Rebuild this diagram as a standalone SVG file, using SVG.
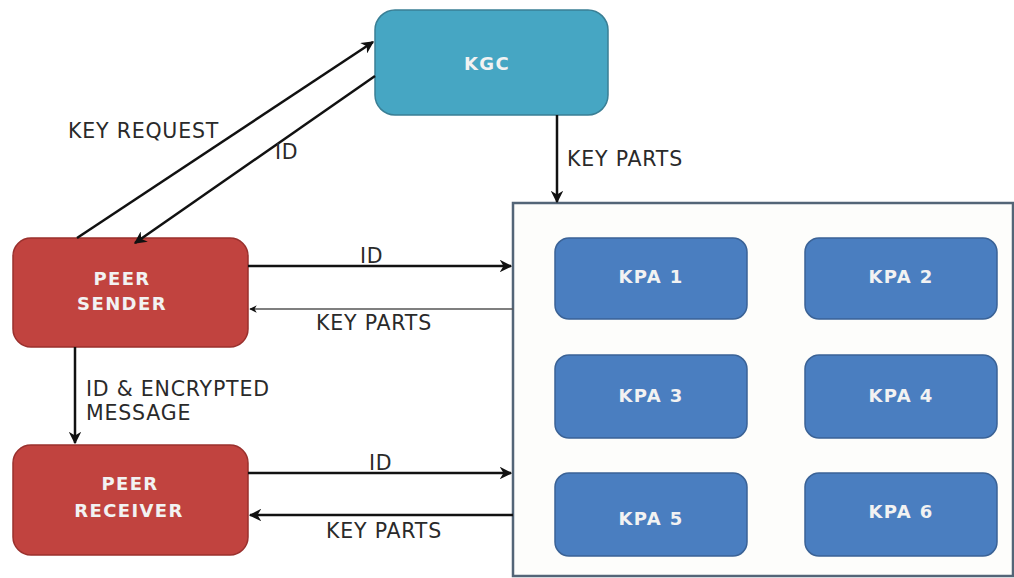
<svg xmlns="http://www.w3.org/2000/svg" width="1014" height="578" viewBox="0 0 1014 578">
  <style>
    .lbl { font-family: "DejaVu Sans", "Liberation Sans", sans-serif; font-size: 20.5px; letter-spacing: 0.8px; fill: #2a2a2a; }
    .ntx { font-family: "DejaVu Sans", "Liberation Sans", sans-serif; font-size: 18px; font-weight: bold; letter-spacing: 1.4px; fill: #f2f2f2; text-anchor: middle; }
    .kgc { fill: #46a6c3; stroke: #3a7f95; stroke-width: 1.5; }
    .peer { fill: #c1433f; stroke: #9a302d; stroke-width: 1.5; }
    .kpa { fill: #4a7ec0; stroke: #3a6296; stroke-width: 1.5; }
    .pool { fill: #fdfdfb; stroke: #536577; stroke-width: 2.5; }
    .wire { fill: none; stroke: #111; stroke-width: 2.5; marker-end: url(#head); }
    .wire.thin { stroke: #555; stroke-width: 1.5; }
  </style>
  <defs>
    <marker id="head" viewBox="0 0 10 10" refX="9" refY="5" markerWidth="5" markerHeight="5" orient="auto" markerUnits="strokeWidth">
      <path d="M0,0 L10,5 L0,10 L3,5 Z" fill="#111"/>
    </marker>
  </defs>
  <rect width="1014" height="578" fill="#ffffff"/>

  <!-- key part authority pool -->
  <g id="pool">
    <rect class="pool" x="513" y="203" width="500" height="373"/>
  </g>

  <g id="kgc">
    <rect class="kgc" x="375" y="10" width="233" height="105" rx="20"/>
    <text class="ntx" x="487" y="70">KGC</text>
  </g>

  <g id="peer-sender">
    <rect class="peer" x="13" y="238" width="235" height="109" rx="18"/>
    <text class="ntx" x="122" y="285">PEER</text>
    <text class="ntx" x="122" y="310">SENDER</text>
  </g>

  <g id="peer-receiver">
    <rect class="peer" x="13" y="445" width="235" height="110" rx="18"/>
    <text class="ntx" x="130" y="490">PEER</text>
    <text class="ntx" x="129" y="517">RECEIVER</text>
  </g>

  <g id="kpa1">
    <rect class="kpa" x="555" y="238" width="192" height="81" rx="14"/>
    <text class="ntx" x="651" y="283">KPA 1</text>
  </g>
  <g id="kpa2">
    <rect class="kpa" x="805" y="238" width="192" height="81" rx="14"/>
    <text class="ntx" x="901" y="283">KPA 2</text>
  </g>
  <g id="kpa3">
    <rect class="kpa" x="555" y="355" width="192" height="83" rx="14"/>
    <text class="ntx" x="651" y="402">KPA 3</text>
  </g>
  <g id="kpa4">
    <rect class="kpa" x="805" y="355" width="192" height="83" rx="14"/>
    <text class="ntx" x="901" y="402">KPA 4</text>
  </g>
  <g id="kpa5">
    <rect class="kpa" x="555" y="473" width="192" height="83" rx="14"/>
    <text class="ntx" x="651" y="525">KPA 5</text>
  </g>
  <g id="kpa6">
    <rect class="kpa" x="805" y="473" width="192" height="83" rx="14"/>
    <text class="ntx" x="901" y="518">KPA 6</text>
  </g>

  <g id="connectors">
    <path class="wire" d="M77,238 L373,42"/>
    <path class="wire" d="M375,76 L135,243"/>
    <path class="wire" d="M557,115 L557,202"/>
    <path class="wire" d="M248,266 L511,266"/>
    <path class="wire thin" d="M513,309 L250,309"/>
    <path class="wire" d="M75,347 L75,443"/>
    <path class="wire" d="M248,473 L511,473"/>
    <path class="wire" d="M513,515 L250,515"/>
  </g>

  <g id="labels">
    <text class="lbl" x="68" y="138">KEY REQUEST</text>
    <text class="lbl" x="275" y="159">ID</text>
    <text class="lbl" x="567" y="166">KEY PARTS</text>
    <text class="lbl" x="360" y="263">ID</text>
    <text class="lbl" x="316" y="330">KEY PARTS</text>
    <text class="lbl" x="86" y="396">ID &amp; ENCRYPTED</text>
    <text class="lbl" x="86" y="420">MESSAGE</text>
    <text class="lbl" x="369" y="470">ID</text>
    <text class="lbl" x="326" y="538">KEY PARTS</text>
  </g>
</svg>
